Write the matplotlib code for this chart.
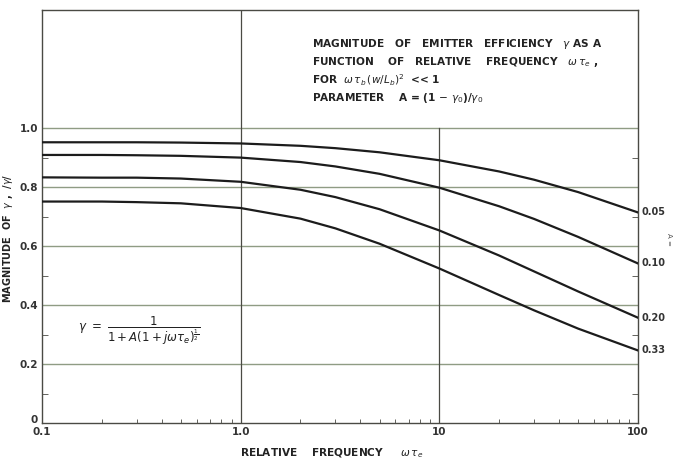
import matplotlib
matplotlib.use("Agg")
import matplotlib.pyplot as plt
from matplotlib.ticker import FixedLocator, NullFormatter, LogLocator
from matplotlib.transforms import offset_copy

# Data
freq = [0.1, 0.2, 0.3, 0.5, 1.0, 2.0, 3.0, 5.0, 10.0, 20.0, 30.0, 50.0, 100.0]
param_labels = ["0.05", "0.10", "0.20", "0.33"]
gamma_005 = [0.952, 0.952, 0.952, 0.951, 0.948, 0.940, 0.932, 0.918, 0.891, 0.853, 0.825, 0.783, 0.714]
gamma_010 = [0.909, 0.909, 0.908, 0.906, 0.900, 0.885, 0.870, 0.845, 0.798, 0.735, 0.692, 0.631, 0.541]
gamma_020 = [0.833, 0.832, 0.832, 0.829, 0.818, 0.791, 0.766, 0.725, 0.653, 0.568, 0.514, 0.446, 0.357]
gamma_033 = [0.751, 0.751, 0.749, 0.745, 0.729, 0.693, 0.660, 0.608, 0.524, 0.434, 0.382, 0.320, 0.246]
series = [gamma_005, gamma_010, gamma_020, gamma_033]

x_ticks = [0.1, 1.0, 10, 100]
x_ticklabels = ["0.1", "1.0", "10", "100"]
y_ticks = [0, 0.2, 0.4, 0.6, 0.8, 1.0]
y_ticklabels = ["0", "0.2", "0.4", "0.6", "0.8", "1.0"]

grid_c = "#8f9c84"
ink = "#1c1c1c"
frame_c = "#4a4a44"

fig = plt.figure(figsize=(6.73, 4.62), dpi=100)
ax = fig.add_axes([0.0624, 0.0844, 0.8856, 0.8936])
ax.set_xscale("log")
ax.set_xlim(0.1, 100)
ax.set_ylim(0, 1.4)

# grid
for yv in y_ticks[1:]:
    ax.axhline(yv, color=grid_c, lw=1.0, zorder=1)
ax.axvline(1.0, color=frame_c, lw=0.9, zorder=1)
ax.axvline(10.0, ymax=1.0 / 1.4, color=frame_c, lw=0.9, zorder=1)

for vals in series:
    ax.plot(freq, vals, color=ink, lw=1.6, zorder=3)

for lab, vals in zip(param_labels, series):
    ax.text(1.006, vals[-1], lab, transform=ax.get_yaxis_transform(), fontsize=7,
            ha="left", va="center", color="#333333", fontweight="bold")

ax.text(1.052, 0.445, "A =", transform=ax.transAxes, rotation=-90, fontsize=5,
        color="#555555", ha="center", va="center")

for s in ax.spines.values():
    s.set_color(frame_c)
    s.set_linewidth(1.0)

ax.xaxis.set_major_locator(FixedLocator(x_ticks))
ax.set_xticklabels(x_ticklabels)
ax.xaxis.set_minor_locator(LogLocator(base=10, subs=[2, 3, 4, 5, 6, 7, 8, 9]))
ax.xaxis.set_minor_formatter(NullFormatter())
ax.yaxis.set_major_locator(FixedLocator(y_ticks))
ax.set_yticklabels(y_ticklabels)
ax.yaxis.set_minor_locator(FixedLocator([0.1, 0.3, 0.5, 0.7, 0.9]))
ax.tick_params(axis="both", which="major", direction="in", length=0, labelsize=7.5,
               colors="#333333", pad=3)
ax.tick_params(axis="x", which="minor", direction="in", length=3, color=frame_c)
ax.tick_params(axis="y", which="minor", direction="in", length=4, color=frame_c,
               left=True, right=True)
for lbl in ax.get_xticklabels() + ax.get_yticklabels():
    lbl.set_fontweight("bold")
# lift the "0" label slightly so it sits above the 0.1 label
ylabels = ax.get_yticklabels()
ylabels[0].set_transform(offset_copy(ylabels[0].get_transform(), fig=fig, x=0, y=4, units="dots"))

ax.set_xlabel(r"RELATIVE    FREQUENCY     $\omega\,\tau_e$", fontsize=7.6, fontweight="bold",
              color="#222222")
ax.xaxis.set_label_coords((332 - 42) / 596, -0.056)
ax.set_ylabel(r"MAGNITUDE  OF  $\gamma$ ,  /$\gamma$/", fontsize=7, fontweight="bold",
              color="#222222")
ax.yaxis.set_label_coords((15 - 42) / 596, (423 - 238) / 413)

# annotation block
lines = [
    r"MAGNITUDE   OF   EMITTER   EFFICIENCY   $\gamma$ AS A",
    r"FUNCTION    OF   RELATIVE    FREQUENCY   $\omega\,\tau_e$ ,",
    r"FOR  $\omega\,\tau_b\,(w/L_b)^2$  << 1",
    r"PARAMETER    A = (1 $-$ $\gamma_0$)/$\gamma_0$",
]
ys = [44, 62, 80, 98]
for t, yp in zip(lines, ys):
    fig.text(312 / 673, 1 - yp / 462, t, fontsize=7.6, fontweight="bold", color="#222222",
             ha="left", va="center")

fig.text(78 / 673, 1 - 331 / 462, r"$\gamma\ =\ \dfrac{1}{1+A(1+j\omega\tau_e)^{\frac{1}{2}}}$",
         fontsize=8.5, color="#222222", ha="left", va="center")

fig.savefig("out.png", dpi=100, facecolor="white")
